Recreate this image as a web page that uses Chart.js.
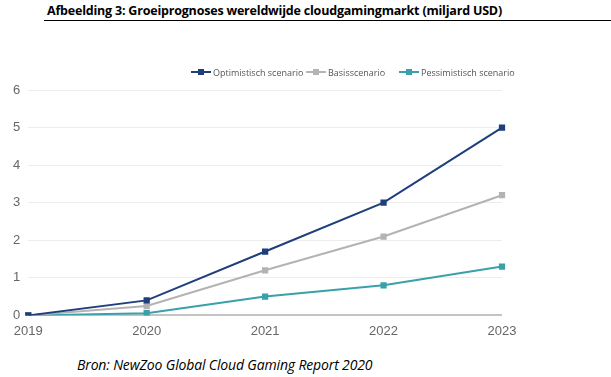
<!DOCTYPE html>
<html>
<head>
<meta charset="utf-8">
<script src="https://cdn.jsdelivr.net/npm/chart.js@4/dist/chart.umd.min.js"></script>
<style>
  html, body { margin: 0; padding: 0; background: #fff; width: 611px; height: 377px; overflow: hidden; }
  #title { position: absolute; left: 47px; top: 2px; font-family: "Open Sans", "Liberation Sans", sans-serif; font-weight: bold; font-size: 12.5px; color: #000; white-space: nowrap; letter-spacing: -0.2px; }
  #rule { position: absolute; left: 44px; top: 20px; width: 567px; height: 1px; background: #000; }
  #source { position: absolute; left: 77px; top: 355px; font-family: "Open Sans", "Liberation Sans", sans-serif; font-style: italic; font-size: 14px; color: #000; white-space: nowrap; letter-spacing: -0.15px; }
  #wrap { position: absolute; left: 0; top: 0; width: 611px; height: 339px; }
  .lg { position: absolute; top: 65px; height: 14px; display: flex; align-items: center; font-family: "Open Sans", "Liberation Sans", sans-serif; font-size: 9px; color: #555; white-space: nowrap; }
  .mk { position: relative; width: 20px; height: 14px; margin-right: 2px; }
  .mk .ln { position: absolute; left: 0; top: 6px; width: 20px; height: 2px; }
  .mk .sq { position: absolute; left: 7px; top: 4px; width: 6px; height: 6px; }
</style>
</head>
<body>
<div id="title">Afbeelding 3: Groeiprognoses wereldwijde cloudgamingmarkt (miljard USD)</div>
<div id="rule"></div>
<div id="wrap"><canvas id="c"></canvas></div>
<div id="legend"></div>
<div id="source">Bron: NewZoo Global Cloud Gaming Report 2020</div>
<script>
const years = ["2019", "2020", "2021", "2022", "2023"];
const optimistisch = [0, 0.4, 1.7, 3.0, 5.0];
const basis = [0, 0.25, 1.2, 2.1, 3.2];
const pessimistisch = [0, 0.06, 0.5, 0.8, 1.3];
const seriesNames = ["Optimistisch scenario", "Basisscenario", "Pessimistisch scenario"];
const colors = ["#1f3f7c", "#b3b3b3", "#3aa0aa"];
const legendLeft = [191, 306, 399];

const legendEl = document.getElementById('legend');
seriesNames.forEach((name, i) => {
  const item = document.createElement('div');
  item.className = 'lg';
  item.style.left = legendLeft[i] + 'px';
  item.innerHTML = '<div class="mk"><div class="ln" style="background:' + colors[i] + '"></div><div class="sq" style="background:' + colors[i] + '"></div></div><span>' + name + '</span>';
  legendEl.appendChild(item);
});

const ds = [optimistisch, basis, pessimistisch].map((d, i) => ({
  label: seriesNames[i],
  data: d,
  borderColor: colors[i],
  backgroundColor: colors[i],
  borderWidth: 2,
  pointStyle: 'rect',
  pointRadius: 3,
  pointHoverRadius: 3,
  tension: 0
}));

new Chart(document.getElementById('c'), {
  type: 'line',
  data: { labels: years, datasets: ds },
  options: {
    responsive: true,
    maintainAspectRatio: false,
    animation: false,
    layout: { padding: { left: 5, right: 109, top: 90, bottom: 0 } },
    plugins: {
      tooltip: { enabled: false },
      legend: { display: false }
    },
    scales: {
      x: {
        offset: false,
        grid: { display: false },
        border: { display: false },
        ticks: { color: '#666', font: { family: "'Liberation Sans', Arial, sans-serif", size: 13 }, padding: 0, maxRotation: 0 }
      },
      y: {
        min: 0, max: 6,
        ticks: { stepSize: 1, color: '#666', font: { family: "'Liberation Sans', Arial, sans-serif", size: 13 }, padding: 8 },
        border: { display: false },
        grid: {
          drawTicks: false,
          color: (ctx) => ctx.tick && ctx.tick.value === 0 ? '#c4c4c4' : '#ececec',
          lineWidth: (ctx) => ctx.tick && ctx.tick.value === 0 ? 2 : 1
        }
      }
    }
  }
});
</script>
</body>
</html>
